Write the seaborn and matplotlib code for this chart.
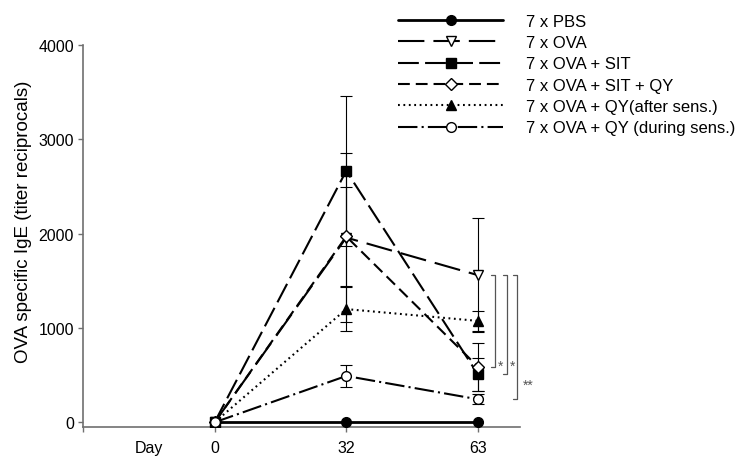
import matplotlib
matplotlib.use("Agg")
import matplotlib.pyplot as plt
import pandas as pd
import seaborn as sns

sns.set_theme(style="ticks")
plt.rcParams["font.family"] = ["Liberation Sans", "DejaVu Sans"]
plt.rcParams["lines.scale_dashes"] = False
plt.rcParams["text.color"] = "black"
plt.rcParams["axes.labelcolor"] = "black"
plt.rcParams["xtick.labelcolor"] = "black"
plt.rcParams["ytick.labelcolor"] = "black"

# -------------------------------
# Data
# -------------------------------
days = ["0", "32", "63"]
groups = ["7 x PBS", "7 x OVA", "7 x OVA + SIT", "7 x OVA + SIT + QY",
          "7 x OVA + QY(after sens.)", "7 x OVA + QY (during sens.)"]

pbs = [0, 0, 0]
ova = [0, 1958, 1560]
ova_sit = [0, 2666, 509]
ova_sit_qy = [0, 1970, 590]
ova_qy_after = [0, 1200, 1075]
ova_qy_during = [0, 491, 244]

pbs_sd = [0, 0, 0]
ova_sd = [0, 893, 605]
ova_sit_sd = [0, 796, 177]
ova_sit_qy_sd = [0, 525, 255]
ova_qy_after_sd = [0, 230, 105]
ova_qy_during_sd = [0, 115, 55]

means = [pbs, ova, ova_sit, ova_sit_qy, ova_qy_after, ova_qy_during]
sds = [pbs_sd, ova_sd, ova_sit_sd, ova_sit_qy_sd, ova_qy_after_sd, ova_qy_during_sd]

rows = []
for g, m, s in zip(groups, means, sds):
    for i, d in enumerate(days):
        rows.append({"group": g, "pos": i, "day": d, "value": m[i], "sd": s[i]})
df = pd.DataFrame(rows)

# line style, marker, face colour, line width
styles = {
    "7 x PBS": ("-", "o", "black", 2.0),
    "7 x OVA": ((0, (19, 6.5)), "v", "white", 1.5),
    "7 x OVA + SIT": ((0, (15, 4.5)), "s", "black", 1.5),
    "7 x OVA + SIT + QY": ((0, (8.5, 4.3)), "D", "white", 1.5),
    "7 x OVA + QY(after sens.)": ((0, (1.3, 2.6)), "^", "black", 1.5),
    "7 x OVA + QY (during sens.)": ((0, (14, 3, 1.5, 3)), "o", "white", 1.5),
}

# -------------------------------
# Plot
# -------------------------------
fig = plt.figure(figsize=(7.41, 4.6), dpi=100)
ax = fig.add_axes([83 / 741, 1 - 428 / 460, (520 - 83) / 741, (428 - 46) / 460])

for g in groups:
    sub = df[df["group"] == g]
    ls, mk, fc, lw = styles[g]
    eb = sub[sub["pos"] > 0]
    if eb["sd"].sum() > 0:
        ax.errorbar(eb["pos"], eb["value"], yerr=eb["sd"], fmt="none",
                    ecolor="black", elinewidth=0.8, capsize=4.5, capthick=0.8,
                    zorder=2)
    sns.lineplot(data=sub, x="pos", y="value", ax=ax, color="black",
                 linestyle=ls, linewidth=lw, marker=mk,
                 markersize=7 if mk != "D" else 6.5,
                 markerfacecolor=fc, markeredgecolor="black",
                 markeredgewidth=1.0, label=g, legend=False, zorder=3)

# significance brackets at day 63 (OVA vs. treated groups)
gray = "#555555"
brackets = [(2.13, ova_sit_qy[2]), (2.22, ova_sit[2]), (2.30, ova_qy_during[2])]
for bx, low in brackets:
    ax.plot([bx - 0.03, bx, bx, bx - 0.03], [ova[2], ova[2], low, low],
            color=gray, lw=0.9, clip_on=False)
ax.text(2.17, 600, "*", color=gray, fontsize=10, ha="center", va="center")
ax.text(2.26, 600, "*", color=gray, fontsize=10, ha="center", va="center")
ax.text(2.38, 400, "**", color=gray, fontsize=10, ha="center", va="center")

ax.set_xlim(-1, 2.32)
ax.set_ylim(-50, 4000)
ax.set_xticks([-1, 0, 1, 2], labels=[""] + days)
ax.set_xticks([-0.5], labels=["Day"], minor=True)
ax.set_yticks([0, 1000, 2000, 3000, 4000])
ax.set_xlabel("")
ax.set_ylabel("OVA specific IgE (titer reciprocals)", fontsize=13.5)
ax.yaxis.set_label_coords(-0.117, 0.539)

sns.despine(ax=ax)
for sp in ["left", "bottom"]:
    ax.spines[sp].set_color("#707070")
    ax.spines[sp].set_linewidth(1.2)
ax.tick_params(axis="both", which="major", direction="out", length=3.6,
               width=1.0, color="#707070", labelsize=11.5, pad=3)
ax.tick_params(axis="x", which="major", pad=5.5)
ax.tick_params(axis="x", which="minor", length=0, pad=9.1, labelsize=11.5)
ax.grid(False)

handles, labels = ax.get_legend_handles_labels()
fig.legend(handles, labels, loc="upper left", bbox_to_anchor=(398 / 741, 0.968),
           frameon=False, fontsize=12, handlelength=6.3, handletextpad=1.4,
           labelspacing=0.38, borderpad=0, borderaxespad=0, numpoints=1)

fig.savefig("out.png", dpi=100)
